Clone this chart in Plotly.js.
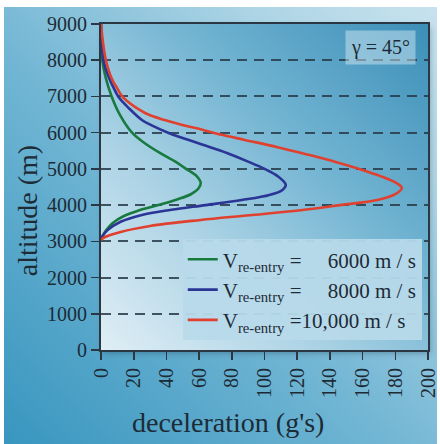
<!DOCTYPE html>
<html>
<head>
<meta charset="utf-8">
<script src="https://cdn.plot.ly/plotly-3.0.1.min.js"></script>
<style>
  html, body { margin: 0; padding: 0; background: #ffffff; }
  #wrap { position: relative; width: 440px; height: 444px; overflow: hidden; }
  #bg { position: absolute; left: 4px; top: 7px; width: 433px; height: 437px;
        background: linear-gradient(to top right, #3896bf 0%, #72b6d4 45%, #acd4e5 78%, #c8e2ee 100%); }
  #plotbg { position: absolute; left: 101px; top: 24px; width: 327px; height: 326px;
        background: linear-gradient(to top right, #dfeef5 0%, #acd3e5 33%, #72b4d2 62%, #3c8fb8 100%);
        box-shadow: 2px 3px 6px rgba(20,50,70,0.35); }
  #chart { position: absolute; left: 0; top: 0; width: 440px; height: 444px; }
</style>
</head>
<body>
<div id="wrap">
  <div id="bg"></div>
  <div id="plotbg"></div>
  <div id="chart"></div>
</div>
<script>
// ---- data ----
var seriesNames = [
  "V<sub>re-entry</sub> =\u00a0\u00a0\u00a0\u00a0 6000 m\u00a0/\u00a0s",
  "V<sub>re-entry</sub> =\u00a0\u00a0\u00a0\u00a0 8000 m\u00a0/\u00a0s",
  "V<sub>re-entry</sub> =10,000 m\u00a0/\u00a0s"
];

// altitude (m) and deceleration (g's), V = 6000 m/s
var alt6000 = [9000, 8500, 8000, 7500, 7000, 6500, 6000, 5700, 5440, 5200, 5000, 4800, 4610, 4450, 4300, 4150, 4000, 3850, 3700, 3500, 3300, 3150, 3050];
var dec6000 = [0, 0.3, 0.8, 3, 6.5, 11.5, 19, 27, 36, 45.5, 52, 58.5, 61, 59.5, 55, 46, 35, 23, 14, 7, 3, 1, 0];

// V = 8000 m/s
var alt8000 = [9000, 8500, 8000, 7500, 7250, 7000, 6850, 6700, 6350, 6200, 6000, 5700, 5440, 5200, 5000, 4800, 4560, 4420, 4280, 4140, 4000, 3870, 3730, 3540, 3310, 3120, 3050];
var dec8000 = [0, 0.5, 1.5, 5, 7.6, 10.5, 13.3, 16.5, 25, 31, 41, 60, 77, 90, 100, 108, 113, 111, 103, 86, 64, 43, 25, 12, 4, 0.6, 0];

// V = 10,000 m/s
var alt10000 = [9000, 8500, 8000, 7500, 7250, 7000, 6860, 6720, 6500, 6350, 6200, 6080, 5940, 5800, 5600, 5400, 5200, 5000, 4800, 4600, 4470, 4300, 4140, 4000, 3860, 3720, 3590, 3425, 3260, 3120, 3040];
var dec10000 = [0, 1.2, 3, 6.5, 9.6, 13, 16.3, 20.5, 29, 39, 51, 62, 74, 88, 108, 126, 143, 158, 171, 181, 184, 180, 169, 146, 122, 91, 61, 30, 12, 2.5, 0];

var xTicks = [0, 20, 40, 60, 80, 100, 120, 140, 160, 180, 200];
var yTicks = [0, 1000, 2000, 3000, 4000, 5000, 6000, 7000, 8000, 9000];

var angleLabel = "γ = 45°";
var xTitle = "deceleration (g's)";
var yTitle = "altitude (m)";

// ---- styling ----
var FONT = "Liberation Serif, Times New Roman, serif";
var INK = "#1d2b36";
var AXC = "#2b3844";
var colors = ["#187a3e", "#2a3596", "#e0412f"];

var traces = [
  {x: dec6000, y: alt6000, name: seriesNames[0]},
  {x: dec8000, y: alt8000, name: seriesNames[1]},
  {x: dec10000, y: alt10000, name: seriesNames[2]}
].map(function (t, i) {
  t.type = "scatter";
  t.mode = "lines";
  t.line = {color: colors[i], width: 2.6, shape: "spline", smoothing: 1};
  return t;
});

var layout = {
  width: 440, height: 444,
  margin: {l: 101, r: 12, t: 24, b: 94, pad: 0},
  paper_bgcolor: "rgba(0,0,0,0)",
  plot_bgcolor: "rgba(0,0,0,0)",
  font: {family: FONT, color: INK, size: 20},
  showlegend: true,
  legend: {
    x: 0.25, y: 0.34, xanchor: "left", yanchor: "top",
    bgcolor: "rgba(184,218,234,0.94)",
    borderwidth: 0,
    font: {family: FONT, size: 21, color: INK},
    itemwidth: 30,
    tracegroupgap: 0
  },
  xaxis: {
    range: [0, 200], tickvals: xTicks, ticktext: xTicks.map(String),
    tickangle: -90, ticks: "outside", ticklen: 8, tickwidth: 1.6, tickcolor: AXC,
    showline: true, linecolor: AXC, linewidth: 2, mirror: true,
    showgrid: false, zeroline: false,
    tickfont: {family: FONT, size: 20, color: INK}
  },
  yaxis: {
    range: [0, 9000], tickvals: yTicks, ticktext: yTicks.map(String),
    ticks: "outside", ticklen: 8, tickwidth: 1.6, tickcolor: AXC,
    showline: true, linecolor: AXC, linewidth: 2, mirror: true,
    showgrid: true, gridcolor: "rgba(38,58,72,0.85)", gridwidth: 2, griddash: "10px,7px",
    zeroline: false,
    tickfont: {family: FONT, size: 20, color: INK}
  },
  annotations: [
    {text: angleLabel, xref: "paper", yref: "paper", x: 0.856, y: 0.929,
     xanchor: "center", yanchor: "middle",
     showarrow: false, font: {family: FONT, size: 20, color: INK},
     bgcolor: "rgba(222,240,248,0.45)", borderpad: 5},
    {text: xTitle, xref: "paper", yref: "paper", x: 0.388, y: -0.222,
     xanchor: "center", yanchor: "middle", showarrow: false,
     font: {family: FONT, size: 28, color: INK}},
    {text: yTitle, xref: "paper", yref: "paper", x: -0.226, y: 0.426,
     xanchor: "center", yanchor: "middle", textangle: -90, showarrow: false,
     font: {family: FONT, size: 28, color: INK}}
  ]
};

Plotly.newPlot("chart", traces, layout, {staticPlot: true, displayModeBar: false});
</script>
</body>
</html>
